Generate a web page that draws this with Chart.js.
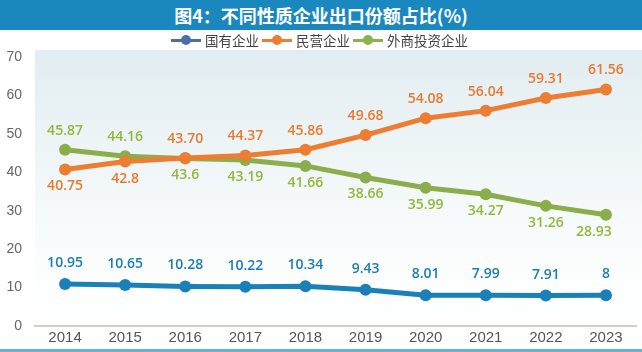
<!DOCTYPE html>
<html>
<head>
<meta charset="utf-8">
<script src="https://cdn.jsdelivr.net/npm/chart.js@4.4.1/dist/chart.umd.min.js"></script>
<style>
  html, body { margin: 0; padding: 0; background: #fff; }
  #wrap { position: relative; width: 642px; height: 352px; overflow: hidden; }
  #chart { position: absolute; left: 0; top: 0; }
  #title {
    position: absolute; left: 0; top: 0; width: 642px; height: 30px;
    background: #1a88bf; color: #fff; text-align: center;
    font: bold 18px "Noto Sans CJK SC", sans-serif; line-height: 30px;
  }
  #legend {
    position: absolute; top: 30px; left: 0; width: 642px; height: 20px;
    font: 13.5px "Noto Sans CJK SC", sans-serif; color: #444;
    display: flex; justify-content: center; align-items: center;
  }
  .item { display: flex; align-items: center; margin-right: 3px; }
  .mark { position: relative; width: 30px; height: 10px; margin-right: 4px; }
  .mark .ln { position: absolute; left: 0; top: 3.5px; width: 30px; height: 3px; }
  .mark .dot { position: absolute; left: 10px; top: 0; width: 10px; height: 10px; border-radius: 50%; }
  #bottomline { position: absolute; left: 0; top: 349px; width: 642px; height: 3px; background: #5db6d3; }
</style>
</head>
<body>
<div id="wrap">
  <canvas id="chart" width="642" height="352"></canvas>
  <div id="title">图4：不同性质企业出口份额占比(%)</div>
  <div id="legend"></div>
  <div id="bottomline"></div>
</div>
<script>
const years = ['2014', '2015', '2016', '2017', '2018', '2019', '2020', '2021', '2022', '2023'];
const seriesNames = ['国有企业', '民营企业', '外商投资企业'];
const stateOwned = ['10.95', '10.65', '10.28', '10.22', '10.34', '9.43', '8.01', '7.99', '7.91', '8'];
const privateOwned = ['40.75', '42.8', '43.70', '44.37', '45.86', '49.68', '54.08', '56.04', '59.31', '61.56'];
const foreignOwned = ['45.87', '44.16', '43.6', '43.19', '41.66', '38.66', '35.99', '34.27', '31.26', '28.93'];
const yTicks = [0, 10, 20, 30, 40, 50, 60, 70];

// where each value label sits relative to its point
const labelSide = [
  ['up', 'up', 'up', 'up', 'up', 'up', 'up', 'up', 'up', 'up'],
  ['down', 'down', 'up', 'up', 'up', 'up', 'up', 'up', 'up', 'up'],
  ['up', 'up', 'down', 'down', 'down', 'down', 'down', 'down', 'down', 'down']
];
const lineColors = ['#1a80b8', '#ed7d31', '#8cad4c'];
const labelColors = ['#1a7db6', '#e97a30', '#93b83c'];
const legendColors = ['#4d6fa9', '#ed7d31', '#8fb04f'];

// legend in html
const legend = document.getElementById('legend');
seriesNames.forEach((name, i) => {
  const item = document.createElement('div');
  item.className = 'item';
  item.innerHTML = '<div class="mark"><div class="ln" style="background:' + legendColors[i] +
    '"></div><div class="dot" style="background:' + legendColors[i] + '"></div></div><span>' + name + '</span>';
  legend.appendChild(item);
});

// plot background gradient
const plotBg = {
  id: 'plotBg',
  beforeDraw(chart) {
    const { ctx, chartArea } = chart;
    const top = 50;
    const g = ctx.createLinearGradient(0, top, 0, chartArea.bottom);
    g.addColorStop(0, '#e2edf1');
    g.addColorStop(0.75, '#fbfdfd');
    g.addColorStop(1, '#ffffff');
    ctx.save();
    ctx.fillStyle = g;
    ctx.fillRect(chartArea.left, top, chart.width - chartArea.left, chartArea.bottom - top);
    ctx.restore();
  }
};

// value labels
const valueLabels = {
  id: 'valueLabels',
  afterDatasetsDraw(chart) {
    const ctx = chart.ctx;
    ctx.save();
    ctx.font = '600 14px "Open Sans", sans-serif';
    ctx.textAlign = 'center';
    ctx.textBaseline = 'middle';
    chart.data.datasets.forEach((ds, di) => {
      const meta = chart.getDatasetMeta(di);
      meta.data.forEach((pt, i) => {
        const up = labelSide[di][i] === 'up';
        const dy = up ? (di === 0 ? -21 : -19) : 17;
        let dx = 0;
        if (di === 2 && i === 9) dx = -12;
        ctx.fillStyle = labelColors[di];
        ctx.fillText(ds.data[i], pt.x + dx, pt.y + dy);
      });
    });
    ctx.restore();
  }
};

const allSeries = [stateOwned, privateOwned, foreignOwned];

new Chart(document.getElementById('chart'), {
  type: 'line',
  data: {
    labels: years,
    datasets: allSeries.map((d, i) => ({
      label: seriesNames[i],
      data: d,
      borderColor: lineColors[i],
      backgroundColor: lineColors[i],
      borderWidth: 5,
      pointRadius: 6,
      pointBorderWidth: 0,
      pointBackgroundColor: lineColors[i],
      tension: 0,
      fill: false
    }))
  },
  options: {
    animation: false,
    responsive: false,
    devicePixelRatio: 1,
    layout: { padding: { top: 57, right: 4, left: 0, bottom: 0 } },
    plugins: {
      legend: { display: false },
      title: { display: false },
      tooltip: { enabled: false }
    },
    scales: {
      x: {
        offset: true,
        grid: { display: false, drawTicks: false },
        border: { display: true, color: '#d3cfcb', width: 2 },
        ticks: { color: '#555', font: { family: 'Liberation Sans', size: 15 }, padding: 3 },
        afterFit(scale) { scale.height = 26; }
      },
      y: {
        min: 0,
        max: 70,
        afterBuildTicks(scale) { scale.ticks = yTicks.map(v => ({ value: v })); },
        grid: { display: false, drawTicks: false },
        border: { display: false },
        ticks: { color: '#666', font: { family: 'Liberation Sans', size: 14 }, padding: 13 },
        afterFit(scale) { scale.width = 35; }
      }
    }
  },
  plugins: [plotBg, valueLabels]
});
</script>
</body>
</html>
